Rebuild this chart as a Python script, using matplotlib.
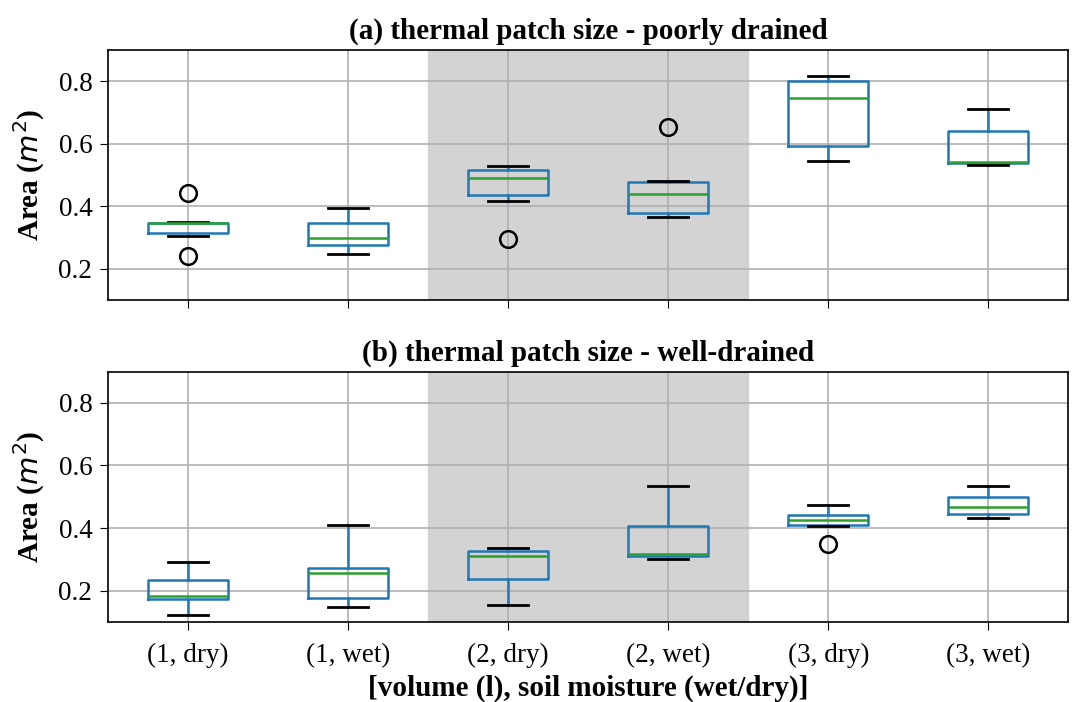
import matplotlib
matplotlib.use('Agg')
import matplotlib.pyplot as plt

plt.rcParams['font.family'] = ['Liberation Serif', 'DejaVu Serif']

labels = ['(1, dry)', '(1, wet)', '(2, dry)', '(2, wet)', '(3, dry)', '(3, wet)']

# (a) poorly drained
a_med = [0.348, 0.298, 0.492, 0.438, 0.746, 0.543]
a_q1 = [0.316, 0.275, 0.436, 0.380, 0.593, 0.538]
a_q3 = [0.348, 0.346, 0.516, 0.478, 0.801, 0.640]
a_lo = [0.305, 0.249, 0.417, 0.367, 0.546, 0.533]
a_hi = [0.351, 0.394, 0.530, 0.480, 0.816, 0.710]
a_fliers = [[0.444, 0.241], [], [0.297], [0.652], [], []]

# (b) well-drained
b_med = [0.183, 0.255, 0.311, 0.318, 0.427, 0.467]
b_q1 = [0.172, 0.176, 0.236, 0.310, 0.410, 0.444]
b_q3 = [0.234, 0.271, 0.326, 0.407, 0.441, 0.500]
b_lo = [0.122, 0.149, 0.153, 0.301, 0.407, 0.432]
b_hi = [0.292, 0.410, 0.337, 0.535, 0.475, 0.535]
b_fliers = [[], [], [], [], [0.349], []]

titles = ['(a) thermal patch size - poorly drained',
          '(b) thermal patch size - well-drained']


def make_stats(med, q1, q3, lo, hi, fl):
    return [dict(med=m, q1=a, q3=b, whislo=l, whishi=h, fliers=f, label=lab)
            for m, a, b, l, h, f, lab in zip(med, q1, q3, lo, hi, fl, labels)]


fig, axes = plt.subplots(2, 1, figsize=(10.76, 7.02), dpi=100, sharex=True)
data = [(a_med, a_q1, a_q3, a_lo, a_hi, a_fliers),
        (b_med, b_q1, b_q3, b_lo, b_hi, b_fliers)]

for ax, d, title in zip(axes, data, titles):
    ax.axvspan(2.5, 4.5, color='lightgray', zorder=0)
    ax.bxp(make_stats(*d), positions=range(1, 7), widths=0.5,
           boxprops=dict(color='C0', linewidth=1.8),
           whiskerprops=dict(color='C0', linewidth=1.8),
           medianprops=dict(color='C2', linewidth=1.8),
           capprops=dict(color='k', linewidth=2.0),
           flierprops=dict(marker='o', markerfacecolor='none',
                           markeredgecolor='k', markersize=12, markeredgewidth=1.8))
    ax.set_xlim(0.5, 6.5)
    ax.set_ylim(0.1, 0.9)
    ax.set_yticks([0.2, 0.4, 0.6, 0.8])
    ax.grid(True, color='#b0b0b0', linewidth=1.2)
    ax.set_axisbelow(True)
    ax.set_title(title, fontsize=21, fontweight='bold', pad=8)
    ax.set_ylabel('Area ($m^2$)', fontsize=21, fontweight='bold', labelpad=8)
    ax.tick_params(labelsize=19.5, length=6, pad=5)
    for s in ax.spines.values():
        s.set_linewidth(1.2)

axes[1].set_xticks(range(1, 7))
axes[1].set_xticklabels(labels)
axes[1].tick_params(axis='x', pad=9)
axes[1].set_xlabel('[volume (l), soil moisture (wet/dry)]', fontsize=21,
                   fontweight='bold', labelpad=5)

fig.subplots_adjust(left=0.1, right=0.993, top=0.929, bottom=0.114, hspace=0.285)
fig.savefig('out.png', dpi=100)
